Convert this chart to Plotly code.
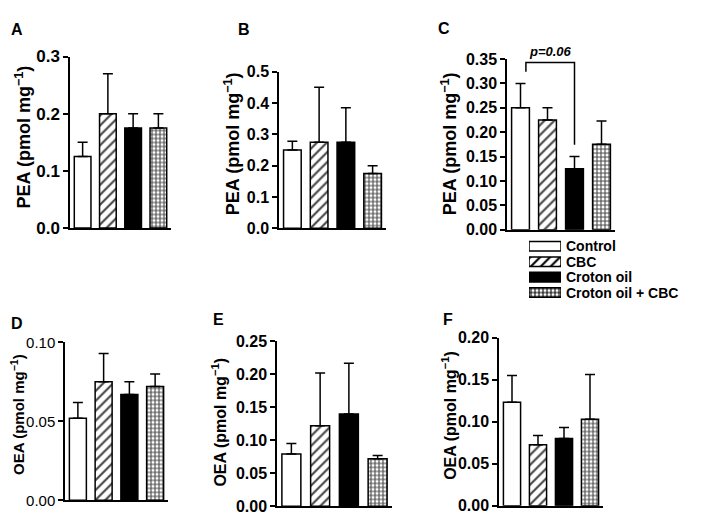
import plotly.graph_objects as go

# ---------------- data ----------------
categories = ["Control", "CBC", "Croton oil", "Croton oil + CBC"]

pea_a_mean = [0.125, 0.200, 0.175, 0.175]
pea_a_sem = [0.025, 0.070, 0.025, 0.025]
pea_b_mean = [0.250, 0.275, 0.275, 0.175]
pea_b_sem = [0.028, 0.175, 0.110, 0.025]
pea_c_mean = [0.250, 0.225, 0.125, 0.175]
pea_c_sem = [0.050, 0.025, 0.025, 0.048]
oea_d_mean = [0.052, 0.075, 0.067, 0.072]
oea_d_sem = [0.010, 0.018, 0.008, 0.008]
oea_e_mean = [0.079, 0.122, 0.140, 0.072]
oea_e_sem = [0.016, 0.080, 0.077, 0.005]
oea_f_mean = [0.123, 0.0725, 0.080, 0.103]
oea_f_sem = [0.032, 0.011, 0.013, 0.053]

panel_letters = ["A", "B", "C", "D", "E", "F"]
y_tops = [0.3, 0.5, 0.35, 0.10, 0.25, 0.20]
y_dticks = [0.1, 0.1, 0.05, 0.05, 0.05, 0.05]
y_formats = [".1f", ".1f", ".2f", ".2f", ".2f", ".2f"]
y_titles = ["PEA (pmol mg<sup>−1</sup>)"] * 3 + ["OEA (pmol mg<sup>−1</sup>)"] * 3
p_label = "p=0.06"

means = [pea_a_mean, pea_b_mean, pea_c_mean, oea_d_mean, oea_e_mean, oea_f_mean]
sems = [pea_a_sem, pea_b_sem, pea_c_sem, oea_d_sem, oea_e_sem, oea_f_sem]

# ---------------- styles ----------------
W, H = 709, 520
FONT = "Liberation Sans, Arial, Helvetica, sans-serif"
bar_colors = ["white", "white", "black", "white"]
bar_shapes = ["", "/", "", "+"]
bar_sizes = [6, 7, 6, 4]
bar_solid = [0.3, 0.3, 0.3, 0.45]

# panel boxes in pixels: x0, x1, y_top, y_zero
boxes = [
    (62, 163, 41, 219),
    (271, 378, 56.7, 219.3),
    (499, 607, 43.7, 220.7),
    (57, 160, 337.7, 501.7),
    (269, 384, 336.7, 507.7),
    (491, 595, 332.7, 507.3),
]
tick_sizes = [17, 16, 16, 15, 16, 16]
tick_weights = ["bold", "bold", "bold", "normal", "bold", "bold"]
title_pos = [(15, 125, 18), (224, 132, 18), (441, 132, 18),
             (10, 413, 15), (211, 421, 16), (441, 414, 16)]
letter_pos = [(9, 13), (236, 13), (436, 12), (9, 318), (210, 314), (440, 314)]


def px_x(p):
    return p / W


def px_y(p):
    return 1 - p / H


fig = go.Figure()
layout = dict(
    width=W, height=H, margin=dict(l=0, r=0, t=0, b=0),
    paper_bgcolor="white", plot_bgcolor="white", showlegend=False,
    font=dict(family=FONT, color="black"), barmode="overlay",
)
annotations = []
xs = list(range(len(categories)))

for i in range(6):
    n = "" if i == 0 else str(i + 1)
    x0, x1, yt, yz = boxes[i]
    fig.add_trace(go.Bar(
        x=xs, y=means[i], width=0.66,
        xaxis="x" + n, yaxis="y" + n,
        marker=dict(
            color=bar_colors,
            line=dict(color="black", width=1.5),
            pattern=dict(shape=bar_shapes, fgcolor="black", bgcolor=bar_colors,
                         size=bar_sizes, solidity=bar_solid, fgopacity=1),
        ),
        error_y=dict(type="data", symmetric=False, array=sems[i],
                     arrayminus=[0] * 4, color="black", thickness=1.5, width=5),
        hovertext=categories,
    ))
    layout["xaxis" + n] = dict(
        domain=[px_x(x0), px_x(x1)], anchor="y" + n, range=[-0.5, 3.5],
        showline=True, linecolor="black", linewidth=1.5, ticks="",
        showticklabels=False, showgrid=False, zeroline=False, fixedrange=True,
    )
    layout["yaxis" + n] = dict(
        domain=[px_y(yz), px_y(yt)], anchor="x" + n, range=[0, y_tops[i]],
        dtick=y_dticks[i], tick0=0, tickformat=y_formats[i],
        showline=True, linecolor="black", linewidth=1.5,
        ticks="outside", ticklen=5, tickwidth=1.5, tickcolor="black",
        tickfont=dict(size=tick_sizes[i], weight=tick_weights[i], family=FONT),
        showgrid=False, zeroline=False, fixedrange=True,
    )
    tx, ty, ts = title_pos[i]
    annotations.append(dict(
        text=y_titles[i], xref="paper", yref="paper", x=px_x(tx), y=px_y(ty),
        xanchor="center", yanchor="middle", textangle=-90, showarrow=False,
        font=dict(size=ts, weight="bold", family=FONT),
    ))
    lx, ly = letter_pos[i]
    annotations.append(dict(
        text=panel_letters[i], xref="paper", yref="paper", x=px_x(lx), y=px_y(ly),
        xanchor="center", yanchor="middle", showarrow=False,
        font=dict(size=16, weight="bold", family=FONT),
    ))

# significance bracket in panel C (Control vs Croton oil)
cm, cs = pea_c_mean, pea_c_sem
gap = 0.024
left_y = cm[0] + cs[0] + gap
right_y = cm[2] + cs[2] + gap
top_y = max(left_y, right_y) + 0.019
fig.add_trace(go.Scatter(
    x=[0.2, 0.2, 2, 2], y=[left_y, top_y, top_y, right_y],
    mode="lines", line=dict(color="black", width=1.5),
    xaxis="x3", yaxis="y3", hoverinfo="skip", cliponaxis=False,
))
annotations.append(dict(
    text=p_label, xref="x3", yref="y3", x=1.1, y=top_y, yanchor="bottom",
    yshift=2, showarrow=False,
    font=dict(size=13, weight="bold", style="italic", family=FONT),
))

# custom legend (wide swatches)
leg_rows = [238, 254, 270, 286]
for k in range(4):
    fig.add_trace(go.Bar(
        x=[1], y=[k], orientation="h", width=0.62,
        xaxis="x7", yaxis="y7",
        marker=dict(
            color=bar_colors[k], line=dict(color="black", width=1.5),
            pattern=dict(shape=bar_shapes[k], fgcolor="black", bgcolor=bar_colors[k],
                         size=bar_sizes[k], solidity=bar_solid[k], fgopacity=1),
        ),
        hovertext=[categories[k]],
    ))
    annotations.append(dict(
        text=categories[k], xref="paper", yref="paper", x=px_x(557),
        y=px_y(leg_rows[k]), xanchor="left", yanchor="middle", showarrow=False,
        borderpad=0, font=dict(size=14, weight="bold", family=FONT),
    ))
layout["xaxis7"] = dict(domain=[px_x(521), px_x(553)], anchor="y7", range=[0, 1],
                        visible=False, fixedrange=True)
layout["yaxis7"] = dict(domain=[px_y(294), px_y(230)], anchor="x7",
                        range=[3.5, -0.5], visible=False, fixedrange=True)

layout["annotations"] = annotations
fig.update_layout(**layout)
fig.write_html("out.html")
